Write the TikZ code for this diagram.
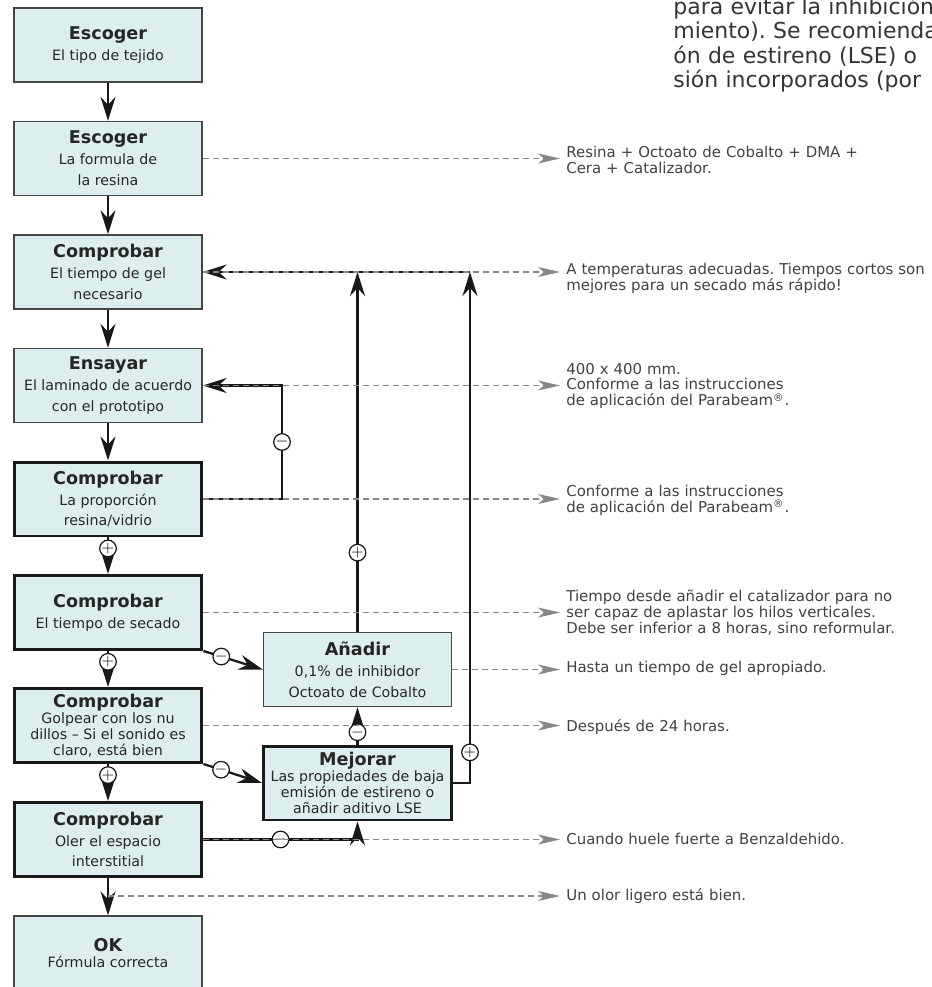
\documentclass[tikz,border=0pt]{standalone}
\usepackage{fontspec}
\setmainfont{DejaVu Sans}
\usetikzlibrary{arrows.meta,positioning}
\definecolor{boxfill}{RGB}{220,238,238}
\definecolor{boxline}{RGB}{70,70,70}
\definecolor{notegray}{RGB}{135,135,135}
\definecolor{notetext}{RGB}{65,65,65}
\newcommand{\hd}[1]{{\fontsize{10}{12}\selectfont\bfseries #1}}
\frenchspacing

\begin{document}
\begin{tikzpicture}[x=0.02cm, y=-0.02cm,
  box/.style={draw=boxline, line width=0.8pt, fill=boxfill, minimum width=3.76cm,
    minimum height=1.48cm, inner sep=1pt, align=center, text=black!85,
    font=\fontsize{8.1}{11.9}\selectfont},
  thickbox/.style={box, draw=black!90, line width=1.7pt},
  tight/.style={font=\fontsize{8.1}{9}\selectfont},
  arr/.style={-{Stealth[length=4.8mm, width=3mm, inset=1.6mm]}, line width=1.3pt, black!90},
  note/.style={-{Stealth[length=4.4mm, width=2mm, inset=1.2mm]}, notegray, line width=0.6pt,
    dash pattern=on 1.2mm off 0.8mm, shorten >=1.2mm},
  notetxt/.style={anchor=west, inner sep=0pt, align=left, text width=8cm, text=notetext,
    font=\fontsize{8.5}{9.1}\selectfont},
  sign/.style={circle, draw=black!90, line width=0.7pt, fill=white, minimum size=2.9mm,
    inner sep=0pt, font=\fontsize{9.5}{9.5}\selectfont}
]
\useasboundingbox (0,0) rectangle (931,987);
\clip (0,0) rectangle (931,987);

% main column
\node[box] (b1) at (108,45) {\hd{Escoger}\\El tipo de tejido};
\node[box] (b2) at (108,158.5) {\hd{Escoger}\\La formula de\\la resina};
\node[box] (b3) at (108,272) {\hd{Comprobar}\\El tiempo de gel\\necesario};
\node[box] (b4) at (108,385.5) {\hd{Ensayar}\\El laminado de acuerdo\\con el prototipo};
\node[thickbox] (b5) at (108,499) {\hd{Comprobar}\\La proporción\\resina/vidrio};
\node[thickbox] (b6) at (108,612.5) {\hd{Comprobar}\\El tiempo de secado};
\node[thickbox, tight] (b7) at (108,725.5) {\hd{Comprobar}\\Golpear con los nu\\dillos – Si el sonido es\\claro, está bien};
\node[thickbox] (b8) at (108,839.5) {\hd{Comprobar}\\Oler el espacio\\interstitial};
\node[box, tight] (b9) at (108,953) {\hd{OK}\\Fórmula correcta};
% corrections
\node[box] (add) at (357.5,669.5) {\hd{Añadir}\\0,1\% de inhibidor\\Octoato de Cobalto};
\node[thickbox, tight] (imp) at (357.5,783) {\hd{Mejorar}\\Las propiedades de baja\\emisión de estireno o\\añadir aditivo LSE};

\draw[arr] (b1) -- (b2);
\draw[arr] (b2) -- (b3);
\draw[arr] (b3) -- (b4);
\draw[arr] (b4) -- (b5);
\draw[arr] (b5) -- node[sign, pos=0.3] (p1) {$+$} (b6);
\draw[arr] (b6) -- node[sign, pos=0.3] (p2) {$+$} (b7);
\draw[arr] (b7) -- node[sign, pos=0.3] (p3) {$+$} (b8);
\draw[arr] (b8) -- (b9);

% feedback loops
\coordinate (fb1) at (282,442);
\coordinate (fb2) at (470,272);
\draw[arr] (b5.east) -| (fb1) |- (b4.east);
\node[sign] (m1) at (fb1) {$-$};
\draw[arr] (add.north) -- node[sign, pos=0.22] (p4) {$+$} (add.north |- fb2);
\draw[arr] (imp.east) -| node[sign, pos=0.53] (p5) {$+$} (fb2);
\draw[arr] (fb2) -- (b3.east);
\draw[arr] (b6.south east) -- node[sign, pos=0.3] (m2) {$-$} (add.west);
\draw[arr] (b7.south east) -- node[sign, pos=0.3] (m3) {$-$} (imp.west);
\draw[arr] (b8.east) -| node[sign, pos=0.25] (m4) {$-$} (imp.south);
\draw[arr] (imp.north) -- node[sign, pos=0.33] (m5) {$-$} (add.south);

% remarks
\node[notetxt] (t2) at (566,160) {Resina + Octoato de Cobalto + DMA +\\Cera + Catalizador.};
\node[notetxt] (t3) at (566,278) {A temperaturas adecuadas. Tiempos cortos son\\mejores para un secado más rápido!};
\node[notetxt] (t4) at (566,386) {400 x 400 mm.\\Conforme a las instrucciones\\de aplicación del Parabeam\textsuperscript{®}.};
\node[notetxt] (t5) at (566,500) {Conforme a las instrucciones\\de aplicación del Parabeam\textsuperscript{®}.};
\node[notetxt] (t6) at (566,613) {Tiempo desde añadir el catalizador para no\\ser capaz de aplastar los hilos verticales.\\Debe ser inferior a 8 horas, sino reformular.};
\node[notetxt] (t7) at (566,668) {Hasta un tiempo de gel apropiado.};
\node[notetxt] (t8) at (566,727) {Después de 24 horas.};
\node[notetxt] (t9) at (566,839) {Cuando huele fuerte a Benzaldehido.};
\node[notetxt] (t10) at (566,896) {Un olor ligero está bien.};
\coordinate (c10) at (b8.south |- t10.west);

\draw[note] (b2.east) -- (b2.east -| t2.west);
\draw[note] (b3.east) -- (b3.east -| t3.west);
\draw[note] (b4.east) -- (b4.east -| t4.west);
\draw[note] (b5.east) -- (b5.east -| t5.west);
\draw[note] (b6.east) -- (b6.east -| t6.west);
\draw[note] (add.east) -- (add.east -| t7.west);
\draw[note] (b7.east) -- (b7.east -| t8.west);
\draw[note] (b8.east) -- (b8.east -| t9.west);
\draw[note] (c10) -- (t10.west);

\node[anchor=base west, inner sep=0pt, align=left, text width=7cm, text=notetext!80!black,
  font=\fontsize{12.5}{14}\selectfont] (intro) at (673,14)
  {para evitar la inhibición\\miento). Se recomienda\\ón de estireno (LSE) o\\sión incorporados (por};
\end{tikzpicture}
\end{document}
